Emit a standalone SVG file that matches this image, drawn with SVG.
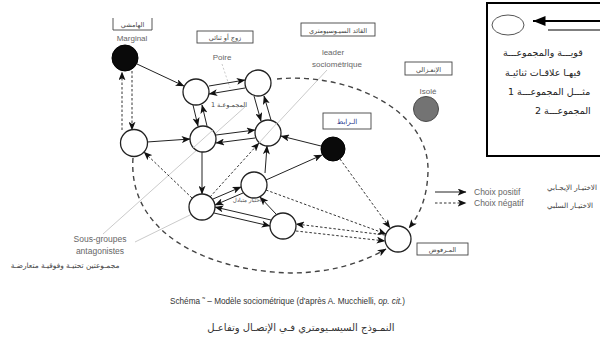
<svg xmlns="http://www.w3.org/2000/svg" width="600" height="348" viewBox="0 0 600 348">
<defs>
<marker id="ah" viewBox="0 0 10 8" refX="9.5" refY="4" markerWidth="9" markerHeight="7" markerUnits="userSpaceOnUse" orient="auto">
<path d="M0,0 L10,4 L0,8 L2.5,4 z" fill="#111"/>
</marker>
<marker id="ahBig" viewBox="0 0 10 8" refX="10" refY="4" markerWidth="13" markerHeight="10" markerUnits="userSpaceOnUse" orient="auto">
<path d="M0,0 L10,4 L0,8 z" fill="#000"/>
</marker>
<style>
.node{fill:#fff;stroke:#222;stroke-width:1.3}
.blk{fill:#0a0a0a;stroke:#000;stroke-width:1}
.pos{stroke:#222;stroke-width:1;fill:none;marker-end:url(#ah)}
.neg{stroke:#333;stroke-width:1;fill:none;stroke-dasharray:2.5 2;marker-end:url(#ah)}
.arc{stroke:#444;stroke-width:1.4;fill:none;stroke-dasharray:5 4;marker-end:url(#ah)}
.ptr{stroke:#bdbdbd;stroke-width:0.8;fill:none}
.box{fill:#fff;stroke:#444;stroke-width:0.9}
.lat{font-family:"Liberation Sans",Arial,sans-serif;fill:#666}
.ar{font-family:"DejaVu Sans","Noto Sans",sans-serif;fill:#444}
</style>
</defs>
<rect width="600" height="348" fill="#fff"/>

<!-- pointer lines -->
<g id="pointers">
<line class="ptr" x1="103" y1="234" x2="246" y2="106"/>
<line class="ptr" x1="135" y1="242" x2="192" y2="214"/>
<line class="ptr" x1="327" y1="70" x2="260" y2="142"/>
<line class="ptr" x1="222" y1="64" x2="230" y2="88" stroke-dasharray="2 2"/>
</g>

<!-- connectors -->
<g id="connectors">
<path class="arc" d="M277,79 C345,72 430,108 428,172 C427,198 420,214 409,228"/>
<path class="arc" d="M133,158 C128,228 198,270 290,273 C330,273 362,263 386,249"/>
<line class="pos" x1="137" y1="64" x2="184" y2="86"/>
<line class="pos" x1="209" y1="86" x2="245" y2="80"/>
<line class="pos" x1="245" y1="88" x2="209" y2="94"/>
<line class="pos" x1="193" y1="105" x2="198" y2="126"/>
<line class="pos" x1="207" y1="126" x2="202" y2="105"/>
<line class="pos" x1="254" y1="96" x2="261" y2="121"/>
<line class="pos" x1="271" y1="120" x2="264" y2="96"/>
<line class="pos" x1="147" y1="142" x2="190" y2="139"/>
<line class="pos" x1="216" y1="135" x2="255" y2="130"/>
<line class="pos" x1="255" y1="138" x2="216" y2="143"/>
<line class="pos" x1="321" y1="146" x2="281" y2="136"/>
<line class="pos" x1="266" y1="180" x2="322" y2="155"/>
<line class="pos" x1="265" y1="173" x2="267" y2="146"/>
<line class="pos" x1="202" y1="152" x2="202" y2="194"/>
<line class="pos" x1="213" y1="199" x2="241" y2="187"/>
<line class="pos" x1="243" y1="193" x2="215" y2="205"/>
<line class="pos" x1="271" y1="220" x2="215" y2="207"/>
<line class="pos" x1="214" y1="213" x2="270" y2="226"/>
<line class="pos" x1="276" y1="214" x2="260" y2="197"/>
<line class="neg" x1="122" y1="130" x2="122" y2="72"/>
<line class="neg" x1="132" y1="71" x2="132" y2="130"/>
<line class="neg" x1="192" y1="198" x2="144" y2="152"/>
<line class="neg" x1="210" y1="197" x2="259" y2="143"/>
<line class="neg" x1="266" y1="190" x2="386" y2="234"/>
<line class="neg" x1="340" y1="159" x2="390" y2="228"/>
<line class="neg" x1="385" y1="235" x2="296" y2="224"/>
<line class="neg" x1="296" y1="231" x2="385" y2="241"/>
</g>

<!-- nodes -->
<g id="marginal"><circle class="blk" cx="125" cy="58" r="13"/></g>
<g id="n1"><circle class="node" cx="196" cy="92" r="13"/></g>
<g id="n2"><circle class="node" cx="258" cy="83" r="13"/></g>
<g id="n3"><circle class="node" cx="134" cy="143" r="13.5"/></g>
<g id="n4"><circle class="node" cx="203" cy="139" r="13"/><line class="ptr" x1="193" y1="148" x2="213" y2="130"/></g>
<g id="n5"><circle class="node" cx="268" cy="133" r="13"/><line class="ptr" x1="259" y1="143" x2="277" y2="123"/></g>
<g id="liaison"><circle class="blk" cx="333" cy="149" r="12"/></g>
<g id="n6"><circle class="node" cx="254" cy="185" r="13"/></g>
<g id="n7"><circle class="node" cx="202" cy="207" r="13"/></g>
<g id="n8"><circle class="node" cx="283" cy="226" r="13"/></g>
<g id="rejete"><circle class="node" cx="398" cy="239" r="13"/></g>
<g id="isole"><circle cx="426" cy="109" r="12.5" fill="#737373" stroke="#4a4a4a" stroke-width="1"/></g>

<!-- labels -->
<g id="lbl-marginal">
<path d="M113,18 V30 H152 V18" fill="none" stroke="#444" stroke-width="0.9"/>
<text class="ar" x="132.5" y="27" font-size="6.5" text-anchor="middle">الهامشي</text>
<text class="lat" x="132" y="41" font-size="8" text-anchor="middle">Marginal</text>
</g>
<g id="lbl-poire">
<rect class="box" x="197" y="31" width="56" height="12"/>
<text class="ar" x="225" y="40" font-size="6.5" text-anchor="middle">زوج أو ثنائي</text>
<text class="lat" x="222" y="60" font-size="8" text-anchor="middle">Poire</text>
</g>
<g id="lbl-leader">
<rect class="box" x="301" y="23" width="74" height="13"/>
<text class="ar" x="338" y="32.5" font-size="6.5" text-anchor="middle">القائد السيـوسيومتري</text>
<text class="lat" x="333" y="55" font-size="8" text-anchor="middle">leader</text>
<text class="lat" x="337" y="67" font-size="8" text-anchor="middle">sociométrique</text>
</g>
<g id="lbl-isole">
<rect class="box" x="405" y="62" width="47" height="13"/>
<text class="ar" x="428.5" y="71.5" font-size="6.5" text-anchor="middle">الإنعـزالي</text>
<text class="lat" x="428" y="94" font-size="8" text-anchor="middle">Isolé</text>
</g>
<g id="lbl-liaison">
<rect class="box" x="323" y="113" width="48" height="16"/>
<text class="ar" x="347" y="124" font-size="7" text-anchor="middle" style="fill:#2b3a8c">الـرابط</text>
</g>
<g id="lbl-groupe1">
<text class="ar" x="229" y="107" font-size="6.5" text-anchor="middle">المجمـوعـة 1</text>
</g>
<g id="lbl-mutuel">
<text class="ar" x="247" y="202" font-size="5.5" text-anchor="middle">اختيار متبادل</text>
</g>
<g id="lbl-rejete">
<rect class="box" x="417" y="243" width="51" height="12"/>
<text class="ar" x="442.5" y="251.5" font-size="6.5" text-anchor="middle">المـرفوض</text>
</g>
<g id="lbl-sousgroupes">
<text class="lat" x="100" y="242" font-size="8.5" text-anchor="middle">Sous-groupes</text>
<text class="lat" x="100" y="254" font-size="8.5" text-anchor="middle">antagonistes</text>
<text class="ar" x="65" y="268" font-size="7.4" text-anchor="middle">مجمـوعتين تحتيـة وفوقيـة متعارضـة</text>
</g>

<!-- legend -->
<g id="legend-choix">
<line x1="435" y1="192" x2="466" y2="192" stroke="#222" stroke-width="1" marker-end="url(#ah)"/>
<line x1="435" y1="203" x2="466" y2="203" stroke="#333" stroke-width="1" stroke-dasharray="2.5 2" marker-end="url(#ah)"/>
<text class="lat" x="474" y="195" font-size="8.5">Choix positif</text>
<text class="lat" x="474" y="206" font-size="8.5">Choix négatif</text>
<text class="ar" x="547" y="190" font-size="7.2">الاختيـار الإيجـابي</text>
<text class="ar" x="547" y="208" font-size="7.2">الاختيـار السلبي</text>
</g>

<g id="legend-box">
<rect x="487" y="3" width="125" height="153" fill="#fff" stroke="#000" stroke-width="2"/>
<ellipse cx="508" cy="25" rx="16" ry="10" fill="#fff" stroke="#555" stroke-width="1"/>
<line x1="612" y1="21" x2="533" y2="21" stroke="#000" stroke-width="2" marker-end="url(#ahBig)"/>
<line x1="548" y1="30" x2="612" y2="30" stroke="#000" stroke-width="1.2"/>
<text class="ar" x="503" y="56" font-size="9.5" style="fill:#222">قويـــة والمجموعـــة</text>
<text class="ar" x="505" y="76" font-size="9.5" style="fill:#222">فيهـا علاقـات ثنائيـة</text>
<text class="ar" x="508" y="95" font-size="9.5" style="fill:#222">مثـــل المجموعـــة 1</text>
<text class="ar" x="535" y="114" font-size="9.5" style="fill:#222">المجموعـــة 2</text>
</g>

<!-- captions -->
<g id="captions">
<text class="lat" x="170" y="304" font-size="8.2" style="fill:#333">Schéma  ˜ – Modèle sociométrique (d'après A. Mucchielli, <tspan font-style="italic">op. cit.</tspan>)</text>
<text class="ar" x="301" y="331" font-size="10" text-anchor="middle" style="fill:#333">النمـوذج السيسـيومتري فـي الإتصـال وتفاعـل</text>
</g>
</svg>
